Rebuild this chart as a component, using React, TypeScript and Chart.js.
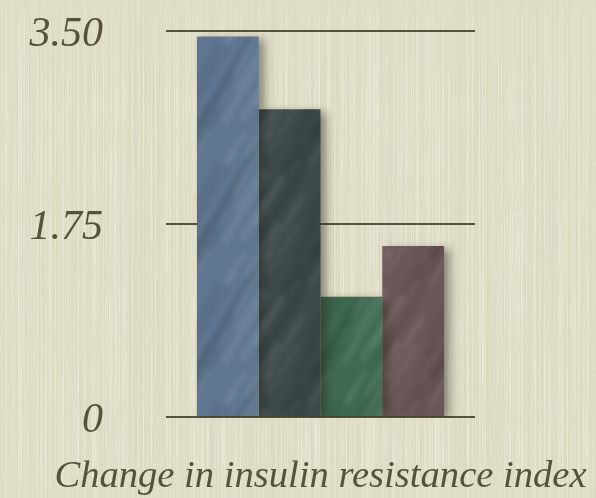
import { useEffect, useRef } from "react";
import { Chart, registerables } from "chart.js";

Chart.register(...registerables);

// Data
const categories = [""];
const groupValues = [3.45, 2.79, 1.09, 1.55];
const barColors = ["#5e7690", "#3c4a4c", "#3e6a52", "#6a5759"];
const tickValues = [0, 1.75, 3.5];
const axisTitle = "Change in insulin resistance index";

const W = 596;
const H = 498;
const inkColor = "#56513b";
const fontFamily = "'Liberation Serif', 'DejaVu Serif', serif";

// deterministic pseudo-noise for paper and bar textures
function hash(n: number): number {
  const s = Math.sin(n * 12.9898 + 78.233) * 43758.5453;
  return s - Math.floor(s);
}

function makePaper(w: number, h: number): HTMLCanvasElement {
  const raw = document.createElement("canvas");
  raw.width = w;
  raw.height = h;
  const g = raw.getContext("2d")!;
  g.fillStyle = "#dfddc7";
  g.fillRect(0, 0, w, h);
  // vertical grain streaks
  for (let x = 0; x < w; x++) {
    const base = hash(x);
    const segs = 7;
    for (let s = 0; s < segs; s++) {
      const v = hash(x * 31 + s * 7);
      const a = base * 0.6 + v * 0.4;
      if (a > 0.5) {
        g.fillStyle = `rgba(244,243,226,${(a - 0.5) * 0.9})`;
      } else {
        g.fillStyle = `rgba(190,186,150,${(0.5 - a) * 0.2})`;
      }
      const y0 = (s / segs) * h + (hash(x + s) - 0.5) * 40;
      g.fillRect(x, y0, 1, h / segs + 40);
    }
  }
  const c = document.createElement("canvas");
  c.width = w;
  c.height = h;
  const g2 = c.getContext("2d")!;
  g2.filter = "blur(0.6px)";
  g2.drawImage(raw, 0, 0);
  return c;
}

function makeBarPattern(ctx: CanvasRenderingContext2D, color: string): CanvasPattern {
  const size = 120;
  const c = document.createElement("canvas");
  c.width = size;
  c.height = size;
  const g = c.getContext("2d")!;
  g.fillStyle = color;
  g.fillRect(0, 0, size, size);
  g.filter = "blur(2.5px)";
  g.lineCap = "round";
  for (let i = 0; i < 22; i++) {
    const x0 = hash(i * 3.1) * size;
    const y0 = hash(i * 5.7) * size;
    const len = 25 + hash(i * 9.3) * 45;
    const light = hash(i * 1.7) > 0.45;
    g.strokeStyle = light ? "rgba(255,255,255,0.08)" : "rgba(0,0,0,0.08)";
    g.lineWidth = 3 + hash(i * 2.3) * 5;
    for (const dx of [-size, 0, size]) {
      for (const dy of [-size, 0, size]) {
        g.beginPath();
        g.moveTo(x0 + dx, y0 + dy);
        g.lineTo(x0 + dx + len * 0.6, y0 + dy - len);
        g.stroke();
      }
    }
  }
  return ctx.createPattern(c, "repeat")!;
}

export default function App() {
  const canvasRef = useRef<HTMLCanvasElement | null>(null);

  useEffect(() => {
    const canvas = canvasRef.current;
    if (!canvas) return;
    const ctx = canvas.getContext("2d")!;
    const paper = makePaper(W, H);

    const paperPlugin = {
      id: "paper",
      beforeDraw(chart: Chart) {
        const c = chart.ctx;
        c.save();
        c.drawImage(paper, 0, 0, chart.width, chart.height);
        c.restore();
      },
    };

    const shadowPlugin = {
      id: "barShadow",
      beforeDatasetsDraw(chart: Chart) {
        const c = chart.ctx;
        c.save();
        c.shadowColor = "rgba(40,36,20,0.45)";
        c.shadowBlur = 10;
        c.shadowOffsetX = 6;
        c.shadowOffsetY = 3;
      },
      afterDatasetsDraw(chart: Chart) {
        chart.ctx.restore();
      },
    };

    // axis caption centred under the plot, drawn without width clamping
    const captionPlugin = {
      id: "caption",
      afterDraw(chart: Chart) {
        const c = chart.ctx;
        const area = chart.chartArea;
        c.save();
        c.font = `italic 38.6px ${fontFamily}`;
        c.fillStyle = inkColor;
        c.textAlign = "center";
        c.textBaseline = "alphabetic";
        c.fillText(axisTitle, (area.left + area.right) / 2, area.bottom + 70);
        c.restore();
      },
    };

    const chart = new Chart(ctx, {
      type: "bar",
      data: {
        labels: categories,
        datasets: groupValues.map((v, i) => ({
          label: `Group ${i + 1}`,
          data: [v],
          backgroundColor: makeBarPattern(ctx, barColors[i]),
          borderWidth: 0,
          categoryPercentage: 0.8,
          barPercentage: 1,
        })),
      },
      options: {
        animation: false,
        responsive: false,
        maintainAspectRatio: false,
        devicePixelRatio: 1,
        layout: { padding: { top: 31, right: 121, left: 0, bottom: 0 } },
        plugins: {
          legend: { display: false },
          tooltip: { enabled: false },
        },
        scales: {
          x: {
            type: "category",
            grid: { display: false },
            border: { display: false },
            ticks: { display: false },
            afterFit(scale: any) {
              scale.height = 81;
            },
          },
          y: {
            min: 0,
            max: 3.5,
            border: { display: false },
            grid: { color: inkColor, lineWidth: 2, drawTicks: false },
            afterBuildTicks(scale: any) {
              scale.ticks = tickValues.map((v) => ({ value: v }));
            },
            ticks: {
              color: inkColor,
              padding: 63,
              labelOffset: 4,
              font: { family: fontFamily, style: "italic", size: 42 },
              callback: (v: any) => (Number(v) === 0 ? "0" : Number(v).toFixed(2)),
            },
            afterFit(scale: any) {
              scale.width = 166;
              scale.paddingTop = 0;
              scale.paddingBottom = 0;
            },
          },
        },
      },
      plugins: [paperPlugin, shadowPlugin, captionPlugin],
    });

    return () => chart.destroy();
  }, []);

  return (
    <div style={{ position: "fixed", left: 0, top: 0, width: W, height: H }}>
      <canvas ref={canvasRef} width={W} height={H} style={{ display: "block" }} />
    </div>
  );
}
